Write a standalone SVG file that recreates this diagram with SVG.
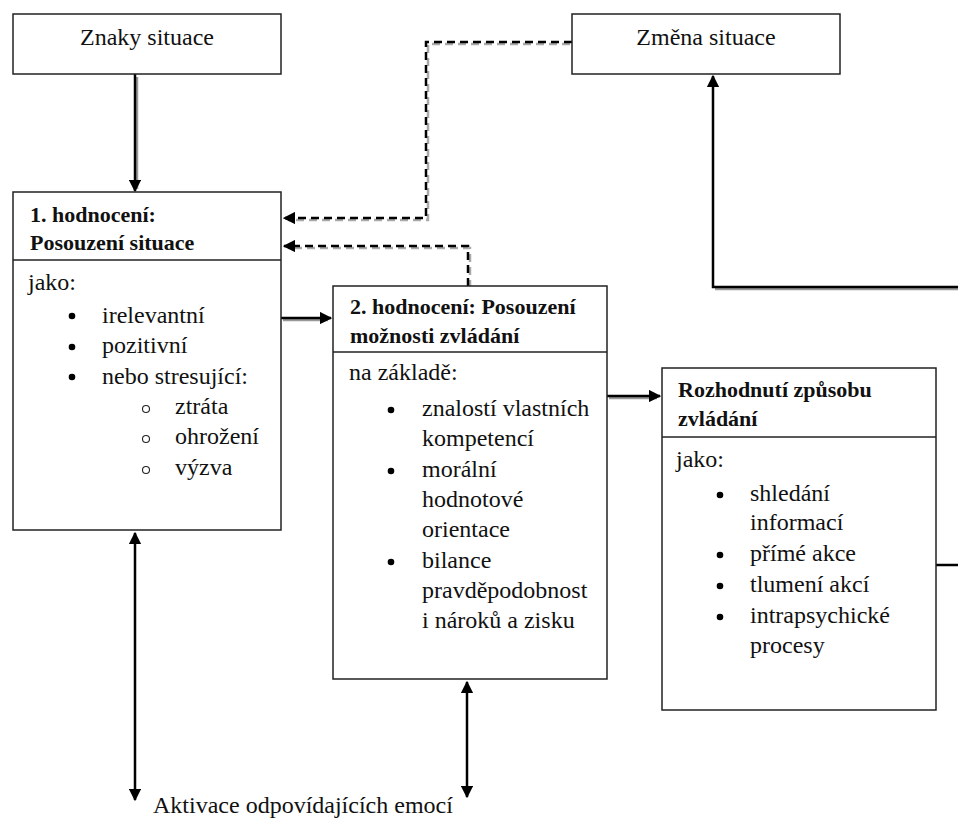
<svg xmlns="http://www.w3.org/2000/svg" width="958" height="818" viewBox="0 0 958 818">
<style>
.box{fill:#fff;stroke:#222;stroke-width:1.5}
.div{stroke:#222;stroke-width:1.5}
.c{stroke:#000;stroke-width:2.5;fill:none}
.sh{stroke:#999;stroke-width:2.5;fill:none}
.d{stroke:#000;stroke-width:2.5;fill:none;stroke-dasharray:8 5}
.dsh{stroke:#aaa;stroke-width:2.5;fill:none;stroke-dasharray:8 5}
.b{fill:#000}
.o{fill:none;stroke:#222;stroke-width:1.1}
</style>
<defs>
<marker id="ah" viewBox="0 0 10 10" refX="9" refY="5" markerWidth="5" markerHeight="5" orient="auto-start-reverse" markerUnits="strokeWidth">
<path d="M0,0 L10,5 L0,10 z" fill="#000"/>
</marker>
</defs>
<rect width="958" height="818" fill="#fff"/>

<g id="connectors">
<path class="sh" d="M137,77 V189"/>
<path class="sh" d="M283,320 H328"/>
<path class="sh" d="M609,398 H657"/>
<path class="sh" d="M715,289 H958"/>
<path class="dsh" d="M570,44 H428 V220 H288"/>
<path class="dsh" d="M470,288 V248 H288"/>
<path class="c" d="M135,74 V191" marker-end="url(#ah)"/>
<path class="d" d="M572,42 H426 V218 H284" marker-end="url(#ah)"/>
<path class="d" d="M468,286 V246 H284" marker-end="url(#ah)"/>
<path class="c" d="M281,318 H331" marker-end="url(#ah)"/>
<path class="c" d="M607,396 H660" marker-end="url(#ah)"/>
<path class="c" d="M936,565 H958"/>
<path class="c" d="M958,287 H713 V76" marker-end="url(#ah)"/>
<path class="c" d="M135,533 V800" marker-start="url(#ah)" marker-end="url(#ah)"/>
<path class="c" d="M467,682 V797" marker-start="url(#ah)" marker-end="url(#ah)"/>
</g>

<g id="znaky">
<rect class="box" x="13" y="14" width="268" height="60"/>
<text font-family="Liberation Serif" font-size="24" fill="#111" x="147" y="45" text-anchor="middle">Znaky situace</text>
</g>

<g id="zmena">
<rect class="box" x="572" y="14" width="268" height="60"/>
<text font-family="Liberation Serif" font-size="24" fill="#111" x="706" y="45" text-anchor="middle">Změna situace</text>
</g>

<g id="hodnoceni1">
<rect class="box" x="13" y="192" width="268" height="338"/>
<line class="div" x1="13" y1="260" x2="281" y2="260"/>
<text font-family="Liberation Serif" font-size="22" font-weight="bold" fill="#111" x="30" y="222">1. hodnocení:</text>
<text font-family="Liberation Serif" font-size="22" font-weight="bold" fill="#111" x="30" y="250">Posouzení situace</text>
<text font-family="Liberation Serif" font-size="24" fill="#111" x="28" y="290">jako:</text>
<circle class="b" cx="72" cy="316" r="3.3"/>
<text font-family="Liberation Serif" font-size="24" fill="#111" x="102" y="323">irelevantní</text>
<circle class="b" cx="72" cy="347" r="3.3"/>
<text font-family="Liberation Serif" font-size="24" fill="#111" x="102" y="353">pozitivní</text>
<circle class="b" cx="72" cy="377" r="3.3"/>
<text font-family="Liberation Serif" font-size="24" fill="#111" x="102" y="384">nebo stresující:</text>
<circle class="o" cx="146" cy="409" r="3.5"/>
<text font-family="Liberation Serif" font-size="24" fill="#111" x="175" y="414">ztráta</text>
<circle class="o" cx="146" cy="439" r="3.5"/>
<text font-family="Liberation Serif" font-size="24" fill="#111" x="175" y="444">ohrožení</text>
<circle class="o" cx="146" cy="470" r="3.5"/>
<text font-family="Liberation Serif" font-size="24" fill="#111" x="175" y="475">výzva</text>
</g>

<g id="hodnoceni2">
<rect class="box" x="333" y="286" width="274" height="393"/>
<line class="div" x1="333" y1="352" x2="607" y2="352"/>
<text font-family="Liberation Serif" font-size="22" font-weight="bold" fill="#111" x="350" y="314">2. hodnocení: Posouzení</text>
<text font-family="Liberation Serif" font-size="22" font-weight="bold" fill="#111" x="350" y="343">možnosti zvládání</text>
<text font-family="Liberation Serif" font-size="24" fill="#111" x="349" y="380">na základě:</text>
<circle class="b" cx="391" cy="410" r="3.3"/>
<text font-family="Liberation Serif" font-size="24" fill="#111" x="422" y="416">znalostí vlastních</text>
<text font-family="Liberation Serif" font-size="24" fill="#111" x="422" y="446">kompetencí</text>
<circle class="b" cx="391" cy="471" r="3.3"/>
<text font-family="Liberation Serif" font-size="24" fill="#111" x="422" y="477">morální</text>
<text font-family="Liberation Serif" font-size="24" fill="#111" x="422" y="507">hodnotové</text>
<text font-family="Liberation Serif" font-size="24" fill="#111" x="422" y="537">orientace</text>
<circle class="b" cx="391" cy="562" r="3.3"/>
<text font-family="Liberation Serif" font-size="24" fill="#111" x="422" y="568">bilance</text>
<text font-family="Liberation Serif" font-size="24" fill="#111" x="422" y="598">pravděpodobnost</text>
<text font-family="Liberation Serif" font-size="24" fill="#111" x="422" y="628">i nároků a zisku</text>
</g>

<g id="rozhodnuti">
<rect class="box" x="662" y="368" width="274" height="342"/>
<line class="div" x1="662" y1="437" x2="936" y2="437"/>
<text font-family="Liberation Serif" font-size="22" font-weight="bold" fill="#111" x="678" y="397">Rozhodnutí způsobu</text>
<text font-family="Liberation Serif" font-size="22" font-weight="bold" fill="#111" x="678" y="426">zvládání</text>
<text font-family="Liberation Serif" font-size="24" fill="#111" x="676" y="467">jako:</text>
<circle class="b" cx="720" cy="495" r="3.3"/>
<text font-family="Liberation Serif" font-size="24" fill="#111" x="750" y="501">shledání</text>
<text font-family="Liberation Serif" font-size="24" fill="#111" x="750" y="530">informací</text>
<circle class="b" cx="720" cy="555" r="3.3"/>
<text font-family="Liberation Serif" font-size="24" fill="#111" x="750" y="561">přímé akce</text>
<circle class="b" cx="720" cy="586" r="3.3"/>
<text font-family="Liberation Serif" font-size="24" fill="#111" x="750" y="592">tlumení akcí</text>
<circle class="b" cx="720" cy="617" r="3.3"/>
<text font-family="Liberation Serif" font-size="24" fill="#111" x="750" y="623">intrapsychické</text>
<text font-family="Liberation Serif" font-size="24" fill="#111" x="750" y="653">procesy</text>
</g>

<g id="aktivace">
<text font-family="Liberation Serif" font-size="24" fill="#111" x="153" y="813">Aktivace odpovídajících emocí</text>
</g>
</svg>
